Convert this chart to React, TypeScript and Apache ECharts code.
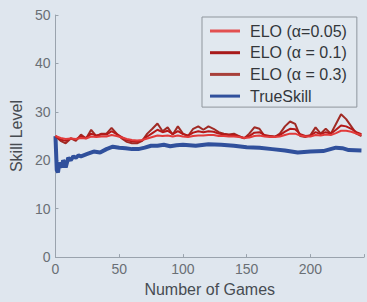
import React, { useEffect, useRef } from "react";
import * as echarts from "echarts";

const eloGames = [0,4,8,12,16,20,24,28,32,36,40,44,48,52,56,60,64,68,72,76,80,84,88,92,96,100,104,108,112,116,120,124,128,132,136,140,144,148,152,156,160,164,168,172,176,180,184,188,192,196,200,204,208,212,216,220,224,228,232,236,240];

const elo005 = [25,24.6,24.4,24.5,24.4,24.6,24.5,24.9,24.8,24.9,24.9,25.2,25,24.7,24.4,24.2,24.1,24.2,24.5,24.8,25.1,25,25.1,24.9,25.1,24.9,24.8,25,25.1,25.1,25.2,25.2,25,25,24.9,24.9,24.8,24.6,24.7,25,25.1,24.9,24.8,24.8,24.9,25.2,25.5,25.5,25.1,24.9,24.9,25.2,25.1,25.3,25.2,25.6,26.1,26.1,25.9,25.5,25.2];

const elo01 = [25,24.3,24,24.5,24.3,24.9,24.6,25.5,25.1,25.3,25.3,26,25.4,24.8,24.2,23.9,23.8,24.1,24.9,25.6,26.3,25.8,26.1,25.4,26,25.4,25.1,25.7,26,25.8,26,25.9,25.5,25.3,25.2,25.2,24.9,24.6,25,25.7,25.8,25.2,25,24.9,25.2,25.9,26.5,26.4,25.4,25,25.1,25.8,25.4,25.8,25.5,26.3,27.2,27,26.5,25.8,25.4];

const elo03 = [25,24,23.5,24.5,24,25.3,24.5,26.3,25,25.5,25.5,26.7,25.5,24.5,23.8,23.5,23.5,24,25.5,26.5,27.6,26,26.8,25.3,27,25.5,25,26.5,27,26.3,27,26.5,25.8,25.5,25.3,25.5,25,24.5,25.5,26.8,26.5,25,25,24.8,25.5,27,28,27.5,25,24.8,25.2,26.8,25.5,26.5,25.5,27.5,29.5,28.5,27,25.5,25];

const tsGames = [0,1,2,3,4,5,6,7,8,9,10,12,14,16,18,20,25,30,35,40,45,50,55,60,65,70,75,80,85,90,95,100,110,120,130,140,150,160,170,180,190,200,210,220,225,230,240];
const trueSkill = [25,18,17.5,19.5,19,18.5,20,19.5,18.5,19.5,20.5,20,20.8,20.5,21,20.8,21.3,21.8,21.6,22.3,22.8,22.6,22.5,22.3,22.3,22.6,23,23,23.2,22.9,23.1,23.2,23,23.3,23.2,23,22.7,22.6,22.3,22,21.6,21.8,21.9,22.6,22.5,22.1,22];

const seriesNames = ["ELO (\u03b1=0.05)", "ELO (\u03b1 = 0.1)", "ELO (\u03b1 = 0.3)", "TrueSkill"];
const xTicks = [0, 50, 100, 150, 200];
const yTicks = [0, 10, 20, 30, 40, 50];

const FONT = "'Liberation Sans', Arial, sans-serif";

export default function App() {
  const ref = useRef<HTMLDivElement>(null);
  useEffect(() => {
    if (!ref.current) return;
    const chart = echarts.init(ref.current, null, { renderer: "svg" });
    const pair = (xs: number[], ys: number[]) => xs.map((x, i) => [x, ys[i]]);
    const axisColor = "#9aa3ad";
    chart.setOption({
      animation: false,
      backgroundColor: "#dfe6ee",
      textStyle: { fontFamily: FONT },
      grid: { left: 47, right: 0, top: 15, bottom: 35 },
      xAxis: {
        type: "value",
        min: 0,
        max: 242,
        interval: 50,
        name: "Number of Games",
        nameLocation: "middle",
        nameGap: 21,
        nameTextStyle: { fontSize: 16, color: "#474c52", fontFamily: FONT },
        axisLine: { show: true, lineStyle: { color: axisColor } },
        axisTick: { show: true, inside: true, length: 3, lineStyle: { color: axisColor } },
        axisLabel: {
          color: "#6a6f75",
          fontSize: 14,
          margin: 5,
          fontFamily: FONT,
          formatter: (v: number) => (xTicks.includes(v) ? String(v) : ""),
        },
        splitLine: { show: false },
      },
      yAxis: {
        type: "value",
        min: 0,
        max: 50,
        interval: 10,
        name: "Skill Level",
        nameLocation: "middle",
        nameGap: 30,
        nameTextStyle: { fontSize: 16, color: "#474c52", fontFamily: FONT },
        axisLine: { show: true, lineStyle: { color: axisColor } },
        axisTick: { show: true, inside: true, length: 3, lineStyle: { color: axisColor } },
        axisLabel: {
          color: "#6a6f75",
          fontSize: 14,
          margin: 5,
          fontFamily: FONT,
          formatter: (v: number) => (yTicks.includes(v) ? String(v) : ""),
        },
        splitLine: { show: false },
      },
      legend: {
        orient: "vertical",
        left: 202,
        top: 17,
        width: 163,
        padding: [6, 10, 3, 8],
        itemGap: 5.7,
        itemWidth: 30,
        itemHeight: 3,
        icon: "rect",
        backgroundColor: "#e1e8ef",
        borderColor: "#8f969d",
        borderWidth: 1,
        borderRadius: 0,
        textStyle: { fontSize: 16, lineHeight: 16, color: "#33373b", fontFamily: FONT, padding: [0, 0, 0, 5] },
        data: seriesNames,
      },
      series: [
        {
          name: seriesNames[3],
          type: "line",
          data: pair(tsGames, trueSkill),
          showSymbol: false,
          lineStyle: { width: 4, color: "#30509c" },
          itemStyle: { color: "#30509c" },
          z: 1,
        },
        {
          name: seriesNames[2],
          type: "line",
          data: pair(eloGames, elo03),
          showSymbol: false,
          lineStyle: { width: 2, color: "#a02a24" },
          itemStyle: { color: "#a8403a" },
          z: 2,
        },
        {
          name: seriesNames[1],
          type: "line",
          data: pair(eloGames, elo01),
          showSymbol: false,
          lineStyle: { width: 2, color: "#b51818" },
          itemStyle: { color: "#a81a1a" },
          z: 3,
        },
        {
          name: seriesNames[0],
          type: "line",
          data: pair(eloGames, elo005),
          showSymbol: false,
          lineStyle: { width: 2, color: "#e23a3a" },
          itemStyle: { color: "#e25050" },
          z: 4,
        },
      ],
    });
    return () => chart.dispose();
  }, []);
  return (
    <div
      ref={ref}
      style={{ position: "fixed", left: 0, top: 0, width: 367, height: 302 }}
    />
  );
}
